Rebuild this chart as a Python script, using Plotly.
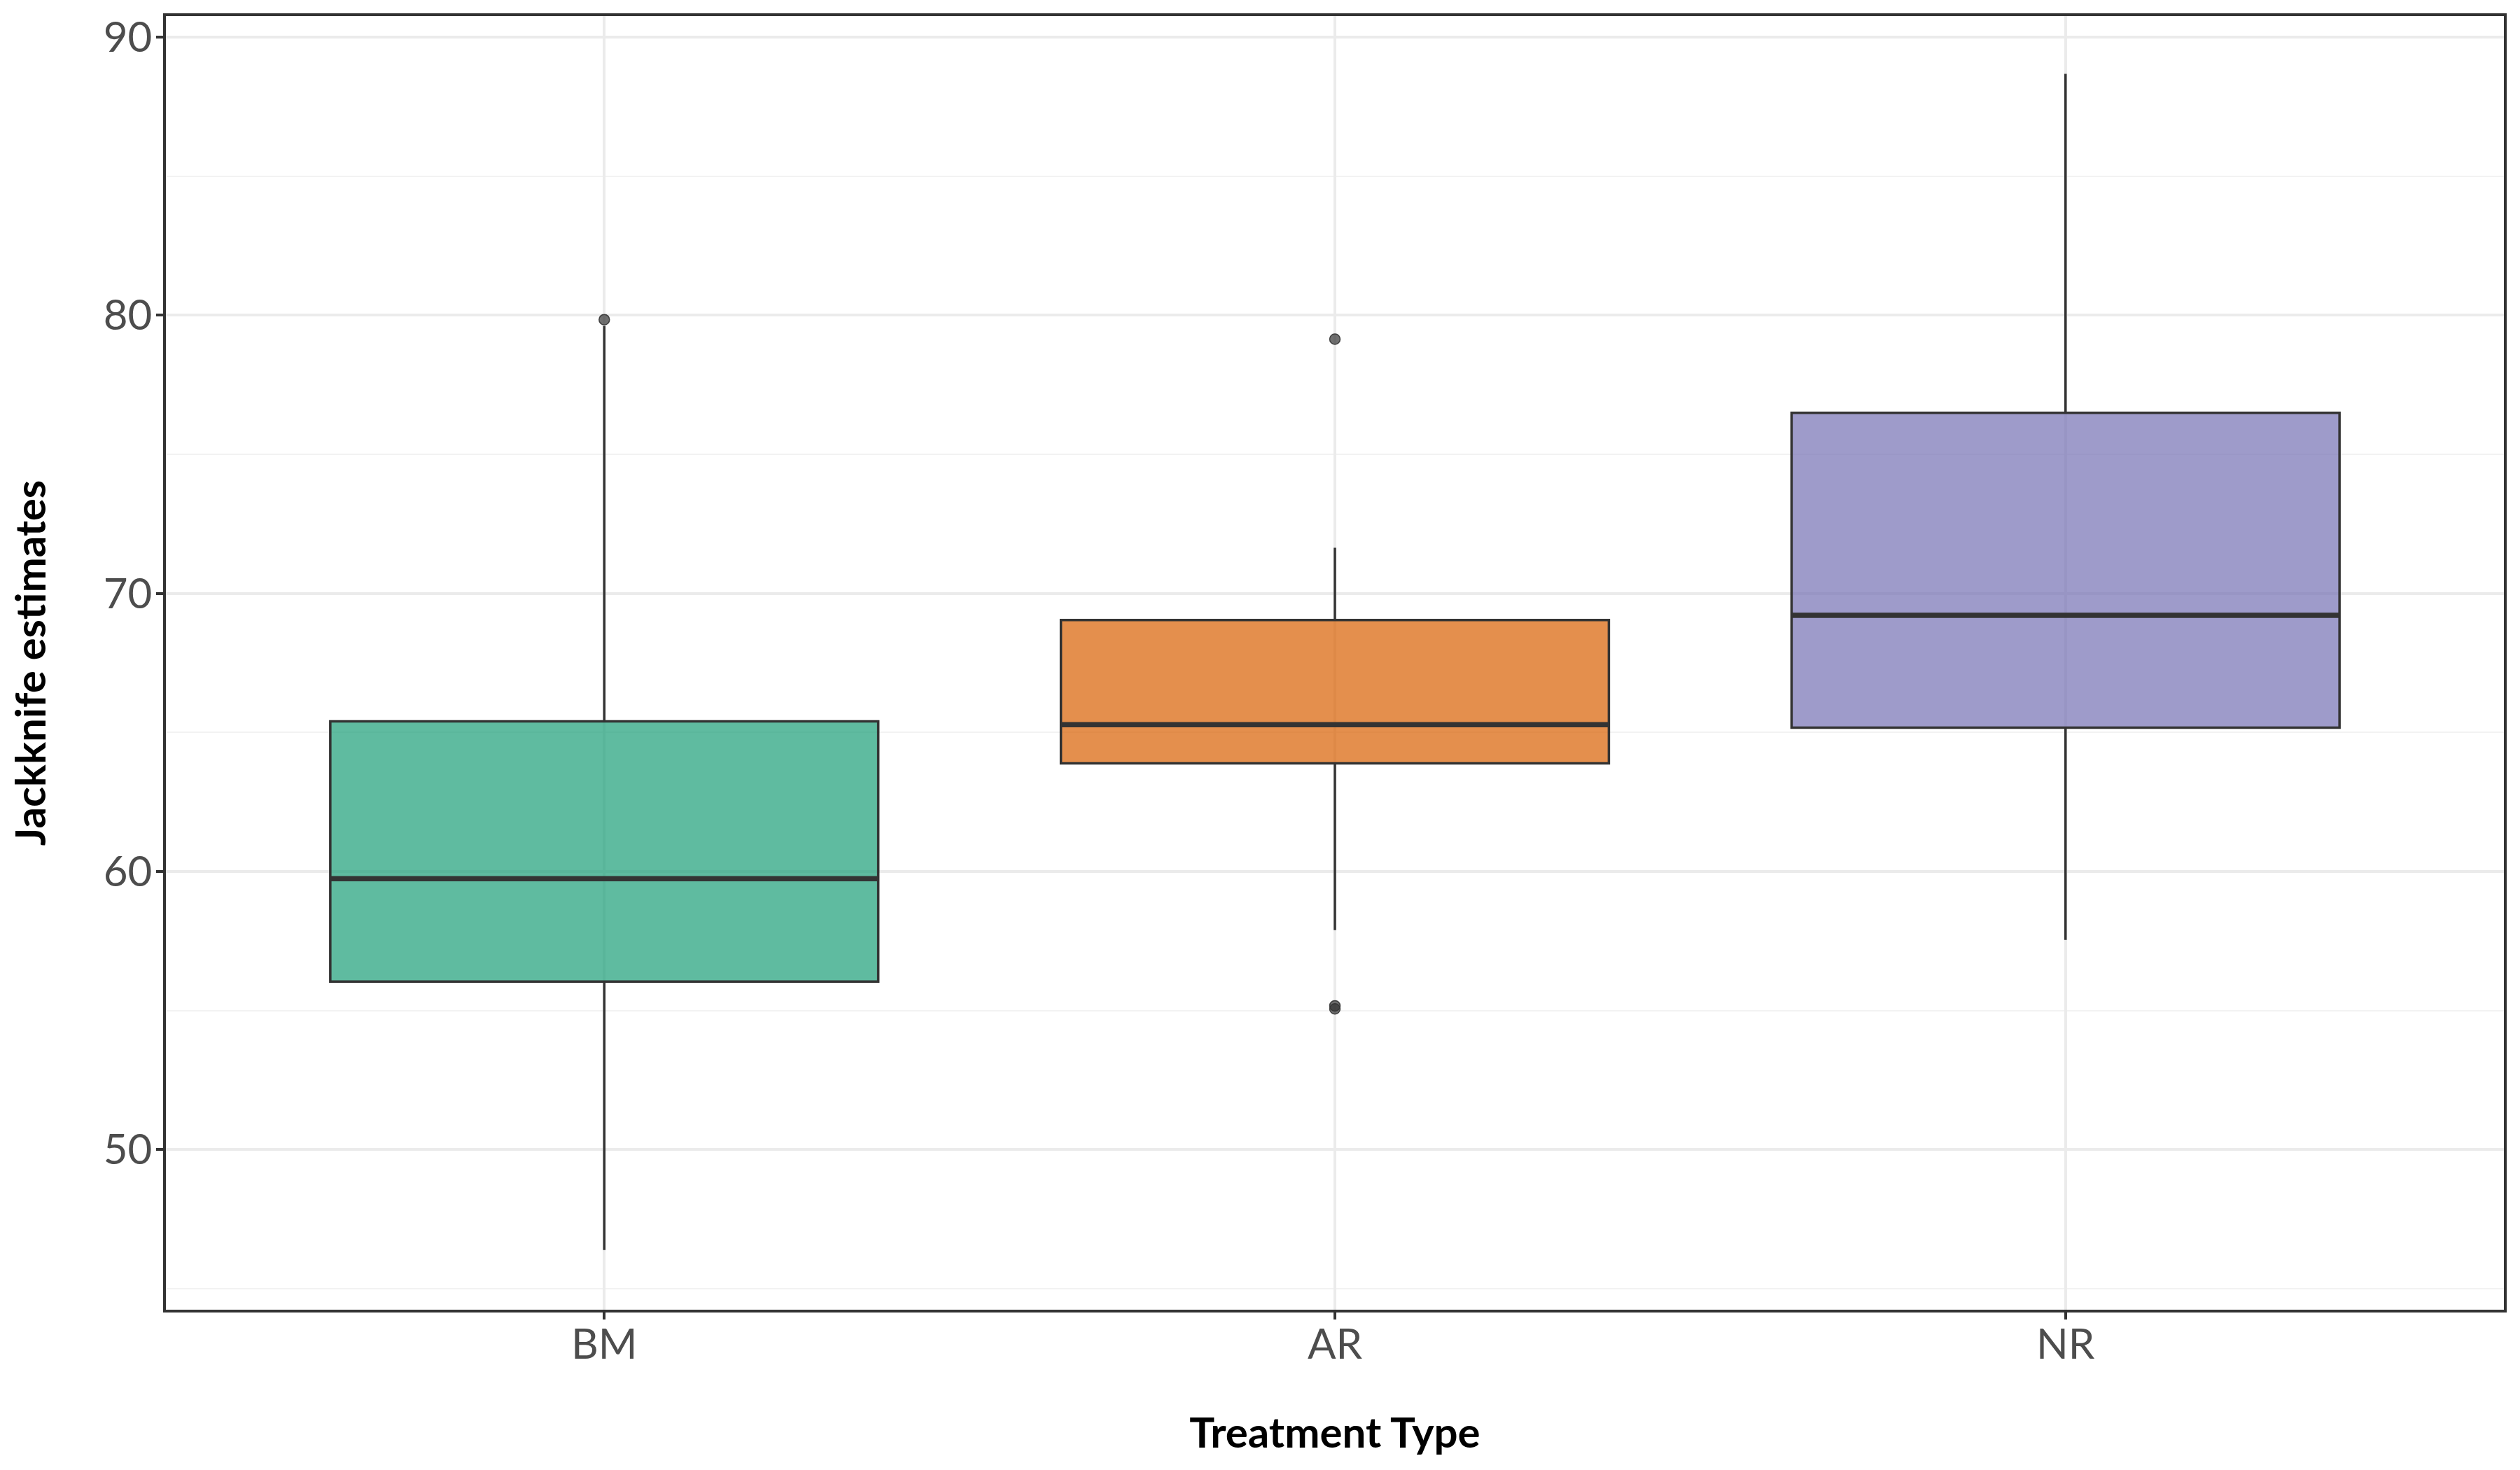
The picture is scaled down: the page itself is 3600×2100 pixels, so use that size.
import plotly.graph_objects as go

categories = ["BM", "AR", "NR"]
positions = [1, 2, 3]
q1 = [56.04, 63.89, 65.17]
medians = [59.74, 65.28, 69.21]
q3 = [65.40, 69.04, 76.49]
lower_whisker = [46.39, 57.89, 57.54]
upper_whisker = [79.61, 71.64, 88.68]
outlier_x = [1, 2, 2, 2]
outlier_y = [79.84, 79.14, 55.17, 55.06]
fill_colors = ["rgba(27,158,119,0.7)", "rgba(217,95,2,0.7)", "rgba(117,112,179,0.7)"]

BOX_W = 0.75
DARK = "#333333"

fig = go.Figure()
for i, cat in enumerate(categories):
    fig.add_trace(go.Box(
        x=[positions[i]], q1=[q1[i]], median=[medians[i]], q3=[q3[i]],
        lowerfence=[lower_whisker[i]], upperfence=[upper_whisker[i]],
        width=BOX_W, whiskerwidth=0, boxpoints=False,
        fillcolor=fill_colors[i], line=dict(color=DARK, width=3.5),
        name=cat, showlegend=False, hoverinfo="skip"))
    fig.add_trace(go.Scatter(
        x=[positions[i] - BOX_W / 2, positions[i] + BOX_W / 2],
        y=[medians[i], medians[i]], mode="lines",
        line=dict(color=DARK, width=7.5), showlegend=False, hoverinfo="skip"))

fig.add_trace(go.Scatter(
    x=outlier_x, y=outlier_y, mode="markers",
    marker=dict(size=15, color="rgba(51,51,51,0.7)", line=dict(color="rgba(51,51,51,0.9)", width=1.5)),
    showlegend=False, hoverinfo="skip"))

font_family = "Lato, 'Open Sans', sans-serif"
fig.update_layout(
    width=3600, height=2100,
    margin=dict(l=237, r=23, t=23, b=229),
    paper_bgcolor="white", plot_bgcolor="white",
    font=dict(family=font_family),
)
fig.update_xaxes(
    range=[0.4, 3.6], tickmode="array", tickvals=positions, ticktext=categories,
    showgrid=True, gridcolor="#ebebeb", gridwidth=3.5,
    showline=True, linecolor=DARK, linewidth=3.5, mirror=True,
    ticks="outside", ticklen=10, tickwidth=3.5, tickcolor=DARK,
    ticklabelstandoff=-16,
    tickfont=dict(size=60, color="#4d4d4d", family=font_family),
    title=dict(text="<b>Treatment Type</b>", font=dict(size=60, color="black", family=font_family), standoff=74),
    zeroline=False,
)
fig.update_yaxes(
    range=[44.245, 90.755], tickmode="array", tickvals=[50, 60, 70, 80, 90],
    showgrid=True, gridcolor="#ebebeb", gridwidth=3.5,
    minor=dict(tickmode="array", tickvals=[45, 55, 65, 75, 85], showgrid=True, gridcolor="#f2f2f2", gridwidth=1.8, ticks=""),
    showline=True, linecolor=DARK, linewidth=3.5, mirror=True,
    ticks="outside", ticklen=10, tickwidth=3.5, tickcolor=DARK,
    ticklabelstandoff=-6,
    tickfont=dict(size=60, color="#4d4d4d", family=font_family),
    title=dict(text="<b>Jackknife estimates</b>", font=dict(size=60, color="black", family=font_family), standoff=64),
    zeroline=False,
)

fig.write_html("out.html")
